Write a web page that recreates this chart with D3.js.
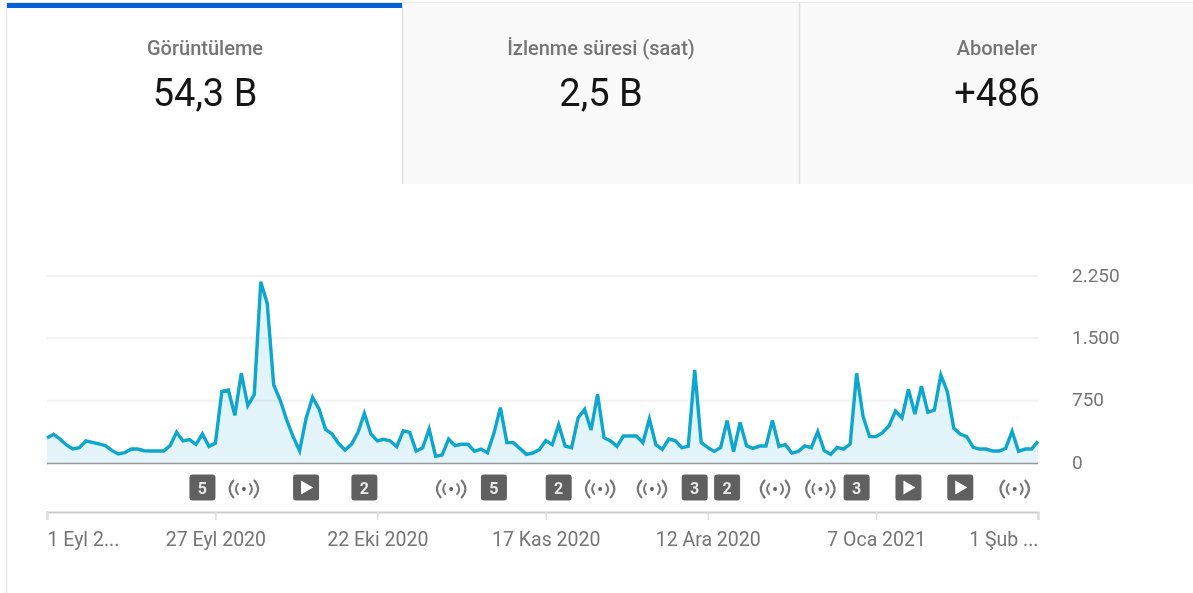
<!DOCTYPE html>
<html>
<head>
<meta charset="utf-8">
<script src="https://cdn.jsdelivr.net/npm/d3@7"></script>
<style>
  body { margin: 0; background: #fff; overflow: hidden; }
  svg { display: block; font-family: Roboto, sans-serif; filter: blur(0.5px); }
</style>
</head>
<body>
<script>
// Kartlar
const tabTitles = ["Görüntüleme", "İzlenme süresi (saat)", "Aboneler"];
const tabValues = ["54,3 B", "2,5 B", "+486"];

// Günlük görüntüleme (1 Eyl 2020 - 1 Şub 2021)
const views = [
  300, 345, 289, 217, 168, 184, 265, 249, 229, 209,
  152, 108, 124, 168, 168, 148, 144, 144, 144, 209,
  369, 265, 281, 225, 349, 200, 240, 862, 878, 573,
  1079, 690, 822, 2180, 1920, 938, 758, 517, 317, 148,
  537, 790, 650, 405, 349, 237, 156, 225, 365, 597,
  349, 265, 285, 265, 196, 389, 369, 144, 184, 409,
  80, 96, 289, 208, 225, 225, 140, 168, 124, 357,
  666, 245, 245, 176, 104, 120, 160, 269, 220, 461,
  204, 184, 545, 645, 397, 826, 305, 265, 200, 325,
  325, 325, 245, 529, 220, 164, 289, 269, 184, 200,
  1119, 245, 188, 140, 184, 509, 136, 489, 208, 176,
  204, 204, 513, 200, 220, 120, 140, 205, 184, 377,
  148, 104, 188, 168, 229, 1079, 557, 317, 317, 365,
  449, 626, 545, 886, 589, 926, 610, 638, 1059, 858,
  417, 349, 317, 188, 168, 168, 144, 144, 176, 381,
  140, 168, 168, 261
];

// Eksenler
const xTickDays = [0, 26, 51, 77, 102, 128, 153];
const xTickLabels = ["1 Eyl 2...", "27 Eyl 2020", "22 Eki 2020", "17 Kas 2020", "12 Ara 2020", "7 Oca 2021", "1 Şub ..."];
const yTicks = [0, 750, 1500, 2250];
const yTickLabels = ["0", "750", "1.500", "2.250"];

// Grafiğin altındaki işaretler
const markerDays = [24, 30, 40, 49, 62, 69, 79, 85, 93, 100, 105, 112, 119, 125, 133, 141, 149];
const markerKinds = ["5", "live", "play", "2", "live", "5", "2", "live", "live", "3", "2", "live", "live", "3", "play", "play", "live"];

var width = 1193;
var height = 593;

var svg = d3.select("body")
    .append("svg")
    .attr("width", width)
    .attr("height", height);

// Sekmeler
const tabEdges = [7, 402, 799, 1193];
const tabCenters = [205, 601, 997];

svg.append("rect")
    .attr("x", 402).attr("y", 3)
    .attr("width", width - 402).attr("height", 181)
    .attr("fill", "#f9f9f9");

svg.append("line")
    .attr("x1", 6.5).attr("x2", width)
    .attr("y1", 2.5).attr("y2", 2.5)
    .attr("stroke", "#e8e8e8");

svg.append("line")
    .attr("x1", 6.5).attr("x2", 6.5)
    .attr("y1", 2).attr("y2", height)
    .attr("stroke", "#e8e8e8")
    .attr("stroke-width", 1.5);

svg.selectAll("line.sep")
    .data(tabEdges.slice(1, 3))
    .enter()
    .append("line")
    .attr("class", "sep")
    .attr("x1", d => d + 0.5)
    .attr("x2", d => d + 0.5)
    .attr("y1", 3)
    .attr("y2", 184)
    .attr("stroke", "#e0e0e0")
    .attr("stroke-width", 1.5);

svg.append("rect")
    .attr("x", 7).attr("y", 3)
    .attr("width", 395).attr("height", 5)
    .attr("fill", "#065fd4");

svg.selectAll("text.tab-title")
    .data(tabTitles)
    .enter()
    .append("text")
    .attr("class", "tab-title")
    .attr("x", (d, i) => tabCenters[i])
    .attr("y", 55)
    .attr("text-anchor", "middle")
    .style("font-size", "20px")
    .style("font-weight", "500")
    .style("fill", "#757575")
    .text(d => d);

svg.selectAll("text.tab-value")
    .data(tabValues)
    .enter()
    .append("text")
    .attr("class", "tab-value")
    .attr("x", (d, i) => tabCenters[i])
    .attr("y", 106)
    .attr("text-anchor", "middle")
    .style("font-size", "38px")
    .style("fill", "#151515")
    .text(d => d);

// Ölçekler
const x = d3.scaleLinear().domain([0, 153]).range([47, 1038]);
const y = d3.scaleLinear().domain([0, 2250]).range([463, 276]);

// Yatay kılavuz çizgileri
svg.selectAll("line.grid")
    .data(yTicks.slice(1))
    .enter()
    .append("line")
    .attr("class", "grid")
    .attr("x1", x(0))
    .attr("x2", x(153))
    .attr("y1", d => y(d))
    .attr("y2", d => y(d))
    .attr("stroke", "#f1f1f1")
    .attr("stroke-width", 2);

// Alan ve çizgi
const area = d3.area()
    .x((d, i) => x(i))
    .y0(y(0))
    .y1(d => y(d));

const line = d3.line()
    .x((d, i) => x(i))
    .y(d => y(d));

svg.append("path")
    .attr("d", area(views))
    .attr("fill", "#0ea5cf")
    .attr("fill-opacity", 0.12);

svg.append("line")
    .attr("x1", x(0))
    .attr("x2", x(153))
    .attr("y1", y(0) + 0.5)
    .attr("y2", y(0) + 0.5)
    .attr("stroke", "#999999")
    .attr("stroke-width", 1.5);

svg.append("path")
    .attr("d", line(views))
    .attr("fill", "none")
    .attr("stroke", "#0ea6cc")
    .attr("stroke-width", 3.4)
    .attr("stroke-linejoin", "miter");

// Y ekseni
var yAxis = d3.axisRight(y)
    .tickValues(yTicks)
    .tickSize(0)
    .tickPadding(0)
    .tickFormat((d, i) => yTickLabels[i]);

var yG = svg.append("g")
    .attr("transform", "translate(1072, -1)")
    .call(yAxis);
yG.select(".domain").remove();
yG.selectAll("text")
    .style("font-family", "Roboto, sans-serif")
    .style("font-size", "19px")
    .style("fill", "#757575");

// X ekseni
var xAxis = d3.axisBottom(x)
    .tickValues(xTickDays)
    .tickSize(8)
    .tickPadding(12)
    .tickFormat((d, i) => xTickLabels[i]);

var xG = svg.append("g")
    .attr("transform", "translate(0, 512)")
    .call(xAxis);
xG.select(".domain")
    .attr("stroke", "#cccccc")
    .attr("stroke-width", 2);
xG.selectAll(".tick line")
    .attr("stroke", "#dddddd")
    .attr("stroke-width", 1.5);
xG.selectAll("text")
    .style("font-family", "Roboto, sans-serif")
    .style("font-size", "19.5px")
    .style("fill", "#757575")
    .attr("text-anchor", (d, i) => i === 0 ? "start" : (i === xTickDays.length - 1 ? "end" : "middle"));

// İşaretler
markerDays.forEach((day, i) => {
    const kind = markerKinds[i];
    if (kind === "live") {
        const g = svg.append("g")
            .attr("transform", `translate(${x(day) + 2.6}, 489)`)
            .attr("fill", "none")
            .attr("stroke", "#757575")
            .attr("stroke-width", 2)
            .attr("stroke-linecap", "round");
        g.append("circle").attr("r", 2).attr("fill", "#606060").attr("stroke", "none");
        [-1, 1].forEach(s => {
            g.append("path").attr("d", `M${s * 6},-5 Q${s * 10},0 ${s * 6},5`);
            g.append("path").attr("d", `M${s * 10.5},-8.5 Q${s * 18},0 ${s * 10.5},8.5`);
        });
    } else {
        const g = svg.append("g")
            .attr("transform", `translate(${x(day)}, 487.5)`);
        g.append("rect")
            .attr("x", -13).attr("y", -13)
            .attr("width", 26).attr("height", 26)
            .attr("rx", 3)
            .attr("fill", "#606060");
        if (kind === "play") {
            g.append("path").attr("d", "M-5,-7 L7,0 L-5,7 Z").attr("fill", "#fff");
        } else {
            g.append("text")
                .attr("y", 6)
                .attr("text-anchor", "middle")
                .style("font-size", "16px")
                .style("font-weight", "700")
                .style("fill", "#e8e8e8")
                .text(kind);
        }
    }
});
</script>
</body>
</html>
